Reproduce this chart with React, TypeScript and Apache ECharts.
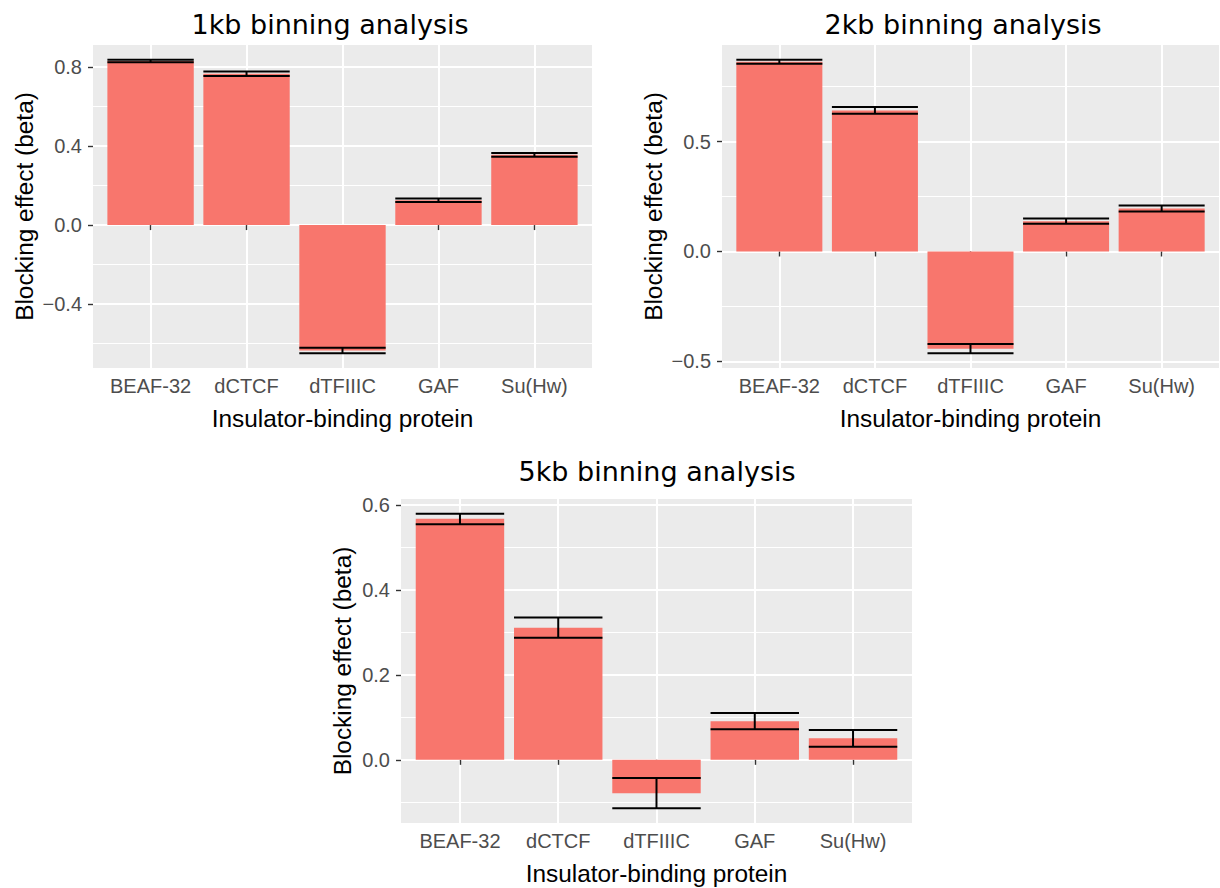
import React, { useEffect, useRef } from "react";
import * as echarts from "echarts";

// ---------- data ----------
const CATEGORIES = ["BEAF-32", "dCTCF", "dTFIIIC", "GAF", "Su(Hw)"];
const CATEGORY_POS = [1, 2, 3, 4, 5];

const TITLE_1KB = "1kb binning analysis";
const BETA_1KB = [0.83, 0.766, -0.635, 0.126, 0.356];
const LOW_1KB = [0.824, 0.754, -0.649, 0.117, 0.346];
const HIGH_1KB = [0.837, 0.777, -0.621, 0.135, 0.365];
const TICKS_1KB = [-0.4, 0, 0.4, 0.8];
const MINOR_1KB = [-0.6, -0.2, 0.2, 0.6];

const TITLE_2KB = "2kb binning analysis";
const BETA_2KB = [0.863, 0.641, -0.442, 0.138, 0.195];
const LOW_2KB = [0.854, 0.626, -0.463, 0.126, 0.182];
const HIGH_2KB = [0.872, 0.657, -0.421, 0.15, 0.209];
const TICKS_2KB = [-0.5, 0, 0.5];
const MINOR_2KB = [-0.25, 0.25, 0.75];

const TITLE_5KB = "5kb binning analysis";
const BETA_5KB = [0.567, 0.311, -0.0785, 0.091, 0.0505];
const LOW_5KB = [0.554, 0.287, -0.114, 0.072, 0.031];
const HIGH_5KB = [0.579, 0.335, -0.043, 0.11, 0.07];
const TICKS_5KB = [0, 0.2, 0.4, 0.6];
const MINOR_5KB = [-0.1, 0.1, 0.3, 0.5];

const X_TITLE = "Insulator-binding protein";
const Y_TITLE = "Blocking effect (beta)";

// ---------- style ----------
const BAR_COLOR = "#F8766D";
const PANEL_BG = "#EBEBEB";
const TICK_COLOR = "#333333";
const LABEL_COLOR = "#4D4D4D";
const SANS = "'Liberation Sans', Arial, sans-serif";
const TITLE_FONT = "'DejaVu Sans', sans-serif";
const ERRORBAR_WIDTH = 0.9;

const PANELS = [
  { title: TITLE_1KB, beta: BETA_1KB, low: LOW_1KB, high: HIGH_1KB, ticks: TICKS_1KB, minor: MINOR_1KB,
    rect: { left: 93, top: 45, width: 499, height: 323 }, titleX: 330, titleY: 24, yNameGap: 57 },
  { title: TITLE_2KB, beta: BETA_2KB, low: LOW_2KB, high: HIGH_2KB, ticks: TICKS_2KB, minor: MINOR_2KB,
    rect: { left: 722, top: 45, width: 497, height: 323 }, titleX: 963, titleY: 24, yNameGap: 57 },
  { title: TITLE_5KB, beta: BETA_5KB, low: LOW_5KB, high: HIGH_5KB, ticks: TICKS_5KB, minor: MINOR_5KB,
    rect: { left: 401, top: 499, width: 511, height: 324 }, titleX: 657, titleY: 471, yNameGap: 47 },
];

function expandRange(lows: number[], highs: number[]): [number, number] {
  const lo = Math.min(0, ...lows);
  const hi = Math.max(0, ...highs);
  const pad = (hi - lo) * 0.05;
  return [lo - pad, hi + pad];
}

function fmtY(v: number) {
  const s = Math.abs(v).toFixed(1);
  return v < -1e-9 ? "\u2212" + s : s;
}

function buildOption() {
  const grid: any[] = [];
  const xAxis: any[] = [];
  const yAxis: any[] = [];
  const series: any[] = [];
  const graphic: any[] = [];

  PANELS.forEach((p, i) => {
    const [ymin, ymax] = expandRange(p.low, p.high);
    grid.push({ ...p.rect, show: true, backgroundColor: PANEL_BG, borderWidth: 0, containLabel: false });
    xAxis.push({
      type: "value",
      gridIndex: i,
      min: 0.4,
      max: 5.6,
      axisLine: { show: false },
      axisTick: { show: true, length: 5, lineStyle: { color: TICK_COLOR, width: 1.4 }, customValues: CATEGORY_POS },
      axisLabel: {
        customValues: CATEGORY_POS,
        formatter: (v: number) => CATEGORIES[Math.round(v) - 1] ?? "",
        color: LABEL_COLOR,
        fontSize: 20,
        fontFamily: SANS,
        margin: 8,
      },
      splitLine: { show: true, lineStyle: { color: "#FFFFFF", width: 2 } },
      name: X_TITLE,
      nameLocation: "middle",
      nameGap: 38,
      nameTextStyle: { color: "#000000", fontSize: 24.4, fontFamily: SANS },
    });
    yAxis.push({
      type: "value",
      gridIndex: i,
      min: ymin,
      max: ymax,
      axisLine: { show: false },
      axisTick: { show: true, length: 5, lineStyle: { color: TICK_COLOR, width: 1.4 }, customValues: p.ticks },
      axisLabel: {
        customValues: p.ticks,
        formatter: fmtY,
        color: LABEL_COLOR,
        fontSize: 20,
        fontFamily: SANS,
        margin: 11,
      },
      splitLine: { show: true, lineStyle: { color: "#FFFFFF", width: 2 } },
      name: Y_TITLE,
      nameLocation: "middle",
      nameGap: p.yNameGap,
      nameTextStyle: { color: "#000000", fontSize: 24.4, fontFamily: SANS },
    });
    yAxis.push({
      type: "value",
      gridIndex: i,
      min: ymin,
      max: ymax,
      position: "left",
      axisLine: { show: false },
      axisTick: { show: false, customValues: p.minor },
      axisLabel: { show: false, customValues: p.minor },
      splitLine: { show: true, lineStyle: { color: "#FFFFFF", width: 1.1 } },
    });
    series.push({
      type: "bar",
      xAxisIndex: i,
      yAxisIndex: 2 * i,
      barWidth: "90%",
      itemStyle: { color: BAR_COLOR },
      data: CATEGORY_POS.map((x, j) => [x, p.beta[j]]),
      z: 2,
    });
    series.push({
      type: "custom",
      xAxisIndex: i,
      yAxisIndex: 2 * i,
      z: 3,
      encode: { x: 0, y: [1, 2] },
      data: CATEGORY_POS.map((x, j) => [x, p.low[j], p.high[j]]),
      renderItem: (params: any, api: any) => {
        const x = api.value(0);
        const pLo = api.coord([x, api.value(1)]);
        const pHi = api.coord([x, api.value(2)]);
        const half = api.size([ERRORBAR_WIDTH, 0])[0] / 2;
        const style = { stroke: "#000000", lineWidth: 2, fill: "none" };
        return {
          type: "group",
          children: [
            { type: "line", shape: { x1: pLo[0], y1: pLo[1], x2: pHi[0], y2: pHi[1] }, style },
            { type: "line", shape: { x1: pLo[0] - half, y1: pLo[1], x2: pLo[0] + half, y2: pLo[1] }, style },
            { type: "line", shape: { x1: pHi[0] - half, y1: pHi[1], x2: pHi[0] + half, y2: pHi[1] }, style },
          ],
        };
      },
    });
    graphic.push({
      type: "text",
      x: p.titleX,
      y: p.titleY,
      style: {
        text: p.title,
        fill: "#000000",
        fontSize: 27,
        fontFamily: TITLE_FONT,
        align: "center",
        verticalAlign: "middle",
      },
    });
  });

  return {
    animation: false,
    backgroundColor: "#FFFFFF",
    grid,
    xAxis,
    yAxis,
    series,
    graphic,
  };
}

export default function App() {
  const ref = useRef<HTMLDivElement>(null);
  useEffect(() => {
    if (!ref.current) return;
    const chart = echarts.init(ref.current, undefined, { renderer: "svg" });
    chart.setOption(buildOption() as any);
    return () => chart.dispose();
  }, []);
  return (
    <div
      ref={ref}
      style={{ position: "absolute", left: 0, top: 0, width: 1220, height: 888, background: "#FFFFFF" }}
    />
  );
}
